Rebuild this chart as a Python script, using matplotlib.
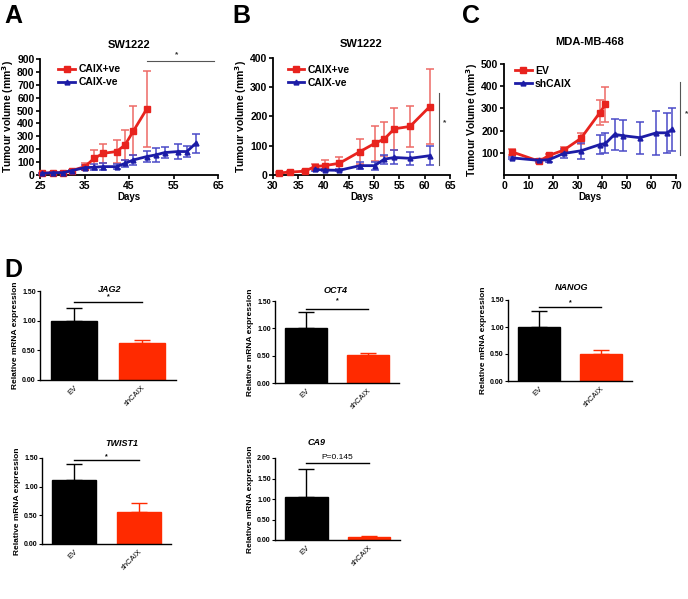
import matplotlib
matplotlib.use("Agg")
import matplotlib.pyplot as plt
import numpy as np

plt.rcParams['font.family'] = ['Liberation Sans', 'DejaVu Sans']
plt.rcParams['font.weight'] = 'bold'

# ---------------- Data ----------------
# Panel A (SW1222)
a_pos_days = [25.4, 28, 30.2, 32.1, 35.1, 37.2, 39.2, 42.2, 44.1, 46, 49]
a_pos_vol = [13, 18, 18, 34, 65, 130, 168, 182, 233, 342, 513]
a_pos_err = [4, 5, 6, 8, 30, 65, 75, 90, 120, 190, 295]
a_neg_days = [25.4, 28, 30.2, 32.1, 35.1, 37.2, 39.2, 42.2, 44.1, 46, 49, 51, 53, 56, 58, 60]
a_neg_vol = [13, 18, 18, 34, 57, 60, 65, 65, 90, 117, 143, 156, 174, 182, 182, 246]
a_neg_err = [4, 5, 6, 8, 20, 22, 25, 20, 30, 40, 45, 55, 45, 55, 40, 75]

# Panel B (SW1222)
b_pos_days = [31.2, 33.3, 36.3, 38.3, 40.2, 43.1, 47.2, 50.1, 52, 54, 57.1, 61]
b_pos_vol = [7, 10, 13, 29, 32, 40, 80, 108, 123, 158, 166, 234]
b_pos_err = [2, 3, 3, 8, 18, 22, 42, 60, 58, 72, 71, 128]
b_neg_days = [38.3, 40.2, 43.1, 47.2, 50.1, 52, 54, 57.1, 61]
b_neg_vol = [19, 17, 16, 32, 32, 54, 60, 57, 66]
b_neg_err = [4, 4, 4, 12, 14, 15, 24, 22, 32]

# Panel C (MDA-MB-468)
c_ev_days = [3.3, 14.3, 18.3, 24.3, 31.3, 39, 41.3]
c_ev_vol = [104, 62, 88, 112, 165, 281, 318]
c_ev_err = [12, 8, 5, 12, 25, 55, 80]
c_sh_days = [3.3, 14.3, 18.3, 24.3, 31.3, 39, 41.3, 45, 48.5, 55.3, 62, 66.5, 68.2]
c_sh_vol = [77, 66, 69, 97, 109, 137, 142, 183, 177, 168, 190, 190, 205]
c_sh_err = [6, 6, 12, 22, 35, 42, 45, 70, 70, 72, 100, 90, 95]

# Panel D (qPCR)
groups = ["EV", "shCAIX"]
genes = ["JAG2", "OCT4", "NANOG", "TWIST1", "CA9"]
expr_mean = {"JAG2": [1.00, 0.63], "OCT4": [1.00, 0.52], "NANOG": [1.00, 0.50],
             "TWIST1": [1.12, 0.56], "CA9": [1.06, 0.07]}
expr_err = {"JAG2": [0.21, 0.05], "OCT4": [0.29, 0.02], "NANOG": [0.30, 0.08],
            "TWIST1": [0.28, 0.16], "CA9": [0.66, 0.03]}
sig_labels = {"JAG2": "*", "OCT4": "*", "NANOG": "*", "TWIST1": "*", "CA9": "P=0.145"}

RED = "#e8231e"
RED_ERR = "#ee6a66"
BLUE = "#1c1ca6"
BLUE_ERR = "#4a4ac8"
BAR_RED = "#ff2a00"

W, H = 688, 599
fig = plt.figure(figsize=(W / 100, H / 100), dpi=100)


def add_ax(l, t, r, b):
    return fig.add_axes([l / W, 1 - b / H, (r - l) / W, (b - t) / H])


def style_line_ax(ax):
    for s in ['top', 'right']:
        ax.spines[s].set_visible(False)
    for s in ['left', 'bottom']:
        ax.spines[s].set_linewidth(1.3)
    ax.tick_params(width=1.2, length=3, labelsize=7.5, pad=1)
    for lab in ax.get_xticklabels() + ax.get_yticklabels():
        lab.set_fontweight('bold')


def plot_series(ax, x, y, e, col, ecol, marker, label, ms):
    ax.errorbar(x, y, yerr=e, fmt='none', ecolor=ecol, elinewidth=1.1,
                capsize=3, capthick=1.1, zorder=2, clip_on=False)
    ax.plot(x, y, color=col, lw=2, marker=marker, ms=ms, label=label, zorder=3,
            clip_on=False)


leg_prop = {'weight': 'bold', 'size': 7.5}

# ---------- Panel A ----------
axA = add_ax(40, 59, 218, 175)
plot_series(axA, a_pos_days, a_pos_vol, a_pos_err, RED, RED_ERR, 's', 'CAIX+ve', 4)
plot_series(axA, a_neg_days, a_neg_vol, a_neg_err, BLUE, BLUE_ERR, '^', 'CAIX-ve', 3.5)
axA.set_xlim(25, 65)
axA.set_ylim(0, 900)
axA.set_xticks([25, 35, 45, 55, 65])
axA.set_yticks(np.arange(0, 901, 100))
style_line_ax(axA)
axA.set_title("SW1222", fontsize=8, fontweight='bold', pad=8)
axA.set_xlabel("Days", fontsize=7, fontweight='bold', labelpad=1)
axA.set_ylabel("Tumour volume (mm$^3$)", fontsize=7.5, fontweight='bold', labelpad=0.5)
axA.plot([49, 64.1], [887, 887], color='#555555', lw=0.8, clip_on=False)
axA.text(55.6, 905, "*", ha='center', va='bottom', fontsize=6, color='#333333')
axA.legend(loc='upper left', bbox_to_anchor=(0.08, 0.99), frameon=False, prop=leg_prop,
           handlelength=1.6, handletextpad=0.3, labelspacing=0.3, borderaxespad=0)

# ---------- Panel B ----------
axB = add_ax(273, 58, 450, 175)
plot_series(axB, b_pos_days, b_pos_vol, b_pos_err, RED, RED_ERR, 's', 'CAIX+ve', 4)
plot_series(axB, b_neg_days, b_neg_vol, b_neg_err, BLUE, BLUE_ERR, '^', 'CAIX-ve', 3.5)
axB.set_xlim(30, 65)
axB.set_ylim(0, 400)
axB.set_xticks([30, 35, 40, 45, 50, 55, 60, 65])
axB.set_yticks([0, 100, 200, 300, 400])
style_line_ax(axB)
axB.set_title("SW1222", fontsize=8, fontweight='bold', pad=8)
axB.set_xlabel("Days", fontsize=7, fontweight='bold', labelpad=1)
axB.set_ylabel("Tumour volume (mm$^3$)", fontsize=7.5, fontweight='bold', labelpad=1)
axB.plot([62.8, 62.8], [34, 282], color='#555555', lw=0.8, clip_on=False)
axB.text(63.9, 177, "*", ha='center', va='center', fontsize=6, color='#333333')
axB.legend(loc='upper left', bbox_to_anchor=(0.06, 0.98), frameon=False, prop=leg_prop,
           handlelength=1.6, handletextpad=0.3, labelspacing=0.3, borderaxespad=0)

# ---------- Panel C ----------
axC = add_ax(504, 64, 676, 175)
plot_series(axC, c_ev_days, c_ev_vol, c_ev_err, RED, RED_ERR, 's', 'EV', 4)
plot_series(axC, c_sh_days, c_sh_vol, c_sh_err, BLUE, BLUE_ERR, '^', 'shCAIX', 3.5)
axC.set_xlim(0, 70)
axC.set_ylim(0, 500)
axC.set_xticks([0, 10, 20, 30, 40, 50, 60, 70])
axC.set_yticks([100, 200, 300, 400, 500])
style_line_ax(axC)
axC.set_title("MDA-MB-468", fontsize=8, fontweight='bold', pad=14)
axC.set_xlabel("Days", fontsize=7, fontweight='bold', labelpad=1)
axC.set_ylabel("Tumour Volume (mm$^3$)", fontsize=7.5, fontweight='bold', labelpad=1)
axC.plot([71.6, 71.6], [89, 421], color='#555555', lw=0.8, clip_on=False)
axC.text(74.3, 278, "*", ha='center', va='center', fontsize=6, color='#333333')
axC.legend(loc='upper left', bbox_to_anchor=(0.04, 1.02), frameon=False, prop=leg_prop,
           handlelength=1.6, handletextpad=0.3, labelspacing=0.3, borderaxespad=0)

# ---------- Panel D ----------
d_boxes = {"JAG2": (40, 291, 176, 380), "OCT4": (275, 301, 399, 383),
           "NANOG": (508, 300, 632, 381), "TWIST1": (42, 458, 171, 544),
           "CA9": (275, 458, 400, 540)}
d_ylim = {"JAG2": 1.5, "OCT4": 1.5, "NANOG": 1.5, "TWIST1": 1.5, "CA9": 2.0}
d_line_y = {"JAG2": 1.31, "OCT4": 1.35, "NANOG": 1.37, "TWIST1": 1.47, "CA9": 1.88}
d_sig_y = {"JAG2": 1.40, "OCT4": 1.50, "NANOG": 1.45, "TWIST1": 1.53, "CA9": 2.02}
d_title_y = {"JAG2": 1.52, "OCT4": 1.70, "NANOG": 1.74, "TWIST1": 1.76, "CA9": 2.39}
d_title_x = {"JAG2": 0.53, "OCT4": 0.48, "NANOG": 0.53, "TWIST1": 0.74, "CA9": 0.16}

for g in genes:
    ax = add_ax(*d_boxes[g])
    xpos = np.arange(len(groups))
    ax.bar(xpos, expr_mean[g], width=0.68, color=['black', BAR_RED],
           edgecolor=['black', BAR_RED], zorder=2)
    ax.errorbar(xpos[0], expr_mean[g][0], yerr=[[0], [expr_err[g][0]]], fmt='none',
                ecolor='black', elinewidth=1, capsize=6, capthick=1, zorder=1)
    ax.errorbar(xpos[1], expr_mean[g][1], yerr=[[0], [expr_err[g][1]]], fmt='none',
                ecolor=BAR_RED, elinewidth=1, capsize=6, capthick=1, zorder=1)
    ax.set_xlim(-0.5, 1.5)
    top = d_ylim[g]
    ax.set_ylim(0, top)
    ax.set_yticks(np.arange(0, top + 0.01, 0.5))
    ax.set_yticklabels(["%.2f" % v for v in np.arange(0, top + 0.01, 0.5)],
                       fontsize=5, fontweight='bold')
    ax.set_xticks(xpos)
    ax.set_xticklabels(groups, rotation=45, ha='right', rotation_mode='anchor',
                       fontsize=5.5, fontweight='normal')
    for s in ['top', 'right']:
        ax.spines[s].set_visible(False)
    ax.spines['left'].set_linewidth(1)
    ax.spines['bottom'].set_linewidth(1)
    ax.tick_params(axis='y', length=2, width=0.8, pad=1)
    ax.tick_params(axis='x', length=0, pad=3)
    ax.set_ylabel("Relative mRNA expression", fontsize=6, fontweight='bold', labelpad=2)
    ax.plot([0, 1], [d_line_y[g]] * 2, color='black', lw=1, clip_on=False)
    fs = 5 if g != "CA9" else 6
    ax.text(0.5, d_sig_y[g], sig_labels[g], ha='center', va='center',
            fontsize=fs, fontweight='normal' if g == "CA9" else 'bold', clip_on=False)
    ax.text(d_title_x[g], d_title_y[g], g, ha='center', va='center', fontsize=6.5,
            fontweight='bold', style='italic', clip_on=False)

# Panel letters
for letter, x, y in [("A", 4, 4), ("B", 232, 4), ("C", 462, 4), ("D", 4, 258)]:
    fig.text(x / W, 1 - y / H, letter, fontsize=18, fontweight='bold', va='top', ha='left')

fig.savefig("out.png", dpi=100)
